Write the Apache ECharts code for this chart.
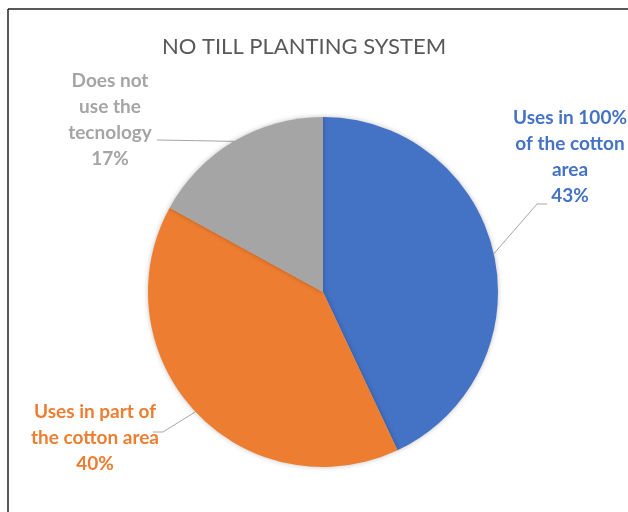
<!DOCTYPE html>
<html>
<head>
<meta charset="utf-8">
<script src="https://cdn.jsdelivr.net/npm/echarts@6/dist/echarts.min.js"></script>
<style>
html,body{margin:0;padding:0;background:#fff;}
#c{width:628px;height:512px;}
</style>
</head>
<body>
<div id="c"></div>
<script>
const titleText = "NO TILL PLANTING SYSTEM";
const categories = ["Uses in 100%\nof the cotton\narea", "Uses in part of\nthe cotton area", "Does not\nuse the\ntecnology"];
const values = [43, 40, 17];
const colors = ["#4472C4", "#ED7D31", "#A5A5A5"];

// layout (not data): pie geometry, label box centers, leader-line label-side ends
const CX = 323, CY = 292, R = 175;
const labelPos = [
  {x: 570, y: 157},
  {x: 95, y: 438},
  {x: 110, y: 120}
];
const leaderEnd = [
  {elbow: [537, 204], end: [547, 204]},
  {elbow: [163, 432], end: [153, 432]},
  {elbow: null, end: [157, 140]}
];

const total = values.reduce((a, b) => a + b, 0);
function midPoint(i) {
  let cum = 0;
  for (let k = 0; k < i; k++) cum += values[k];
  const th = 2 * Math.PI * (cum + values[i] / 2) / total;
  return [CX + R * Math.sin(th), CY - R * Math.cos(th)];
}

const chart = echarts.init(document.getElementById('c'));
chart.setOption({
  backgroundColor: '#fff',
  animation: false,
  title: {
    text: titleText,
    left: 299,
    textAlign: 'center',
    top: 31,
    textStyle: {fontFamily: 'Lato', fontSize: 22, fontWeight: 'normal', color: '#595959'}
  },
  graphic: [
    {type: 'line', shape: {x1: 8, y1: 9, x2: 8, y2: 512}, style: {stroke: '#222', lineWidth: 1.5}},
    {type: 'line', shape: {x1: 8, y1: 9, x2: 628, y2: 9}, style: {stroke: '#222', lineWidth: 1.5}}
  ],
  series: [{
    type: 'pie',
    center: [CX, CY],
    radius: [0, R],
    startAngle: 90,
    clockwise: true,
    data: categories.map((n, i) => ({
      name: n, value: values[i],
      itemStyle: {color: colors[i]},
      label: {color: colors[i]}
    })),
    itemStyle: {borderWidth: 0, shadowBlur: 5, shadowColor: 'rgba(0,0,0,0.25)'},
    label: {
      show: true,
      position: 'outside',
      formatter: '{b}\n{d}%',
      fontFamily: 'Lato',
      fontWeight: 'bold',
      fontSize: 19,
      lineHeight: 26,
      align: 'center',
      overflow: 'none'
    },
    labelLine: {show: true, lineStyle: {color: '#A6A6A6', width: 1}, length: 20, length2: 10},
    labelLayout: function (p) {
      const i = p.dataIndex;
      const lp = labelPos[i];
      const le = leaderEnd[i];
      const pts = [midPoint(i)];
      if (le.elbow) pts.push(le.elbow); else pts.push([(pts[0][0] + le.end[0]) / 2, (pts[0][1] + le.end[1]) / 2]);
      pts.push(le.end);
      return {x: lp.x, y: lp.y, align: 'center', verticalAlign: 'middle', labelLinePoints: pts};
    }
  }]
});
</script>
</body>
</html>
